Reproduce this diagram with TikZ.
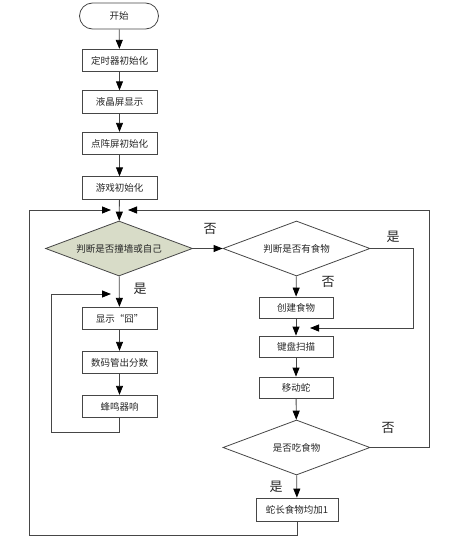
\documentclass[tikz,border=0pt]{standalone}
\usepackage{fontspec}
\newfontfamily\cjk{Noto Sans CJK SC}
\usetikzlibrary{shapes.geometric,arrows.meta}
\definecolor{dfill}{RGB}{216,220,200}
\definecolor{ln}{RGB}{70,70,70}
\begin{document}
\begin{tikzpicture}[x=1pt,y=-1pt,
  every node/.style={font=\cjk\fontsize{9.5}{11}\selectfont, text=black!85},
  stepbox/.style={draw=ln, line width=0.8pt, rectangle, minimum width=75pt, minimum height=22.5pt, inner sep=1pt},
  dec/.style={draw=ln, line width=0.8pt, diamond, aspect=2.67, minimum width=147pt, minimum height=55pt, inner sep=0pt},
  lab/.style={font=\cjk\fontsize{13}{14}\selectfont, text=black!85},
  conn/.style={draw=ln, line width=0.8pt},
  arr/.style={conn, -{Triangle[length=9pt,width=7pt,color=black]}}]
\useasboundingbox (0,0) rectangle (458,538);
\node[draw=ln, line width=0.8pt, rounded corners=13pt, minimum width=79pt, minimum height=26pt] (start) at (119,16) {开始};
\node[stepbox] (b1) at (119.5,60.5) {定时器初始化};
\node[stepbox] (b2) at (119.5,102) {液晶屏显示};
\node[stepbox] (b3) at (119.5,143.5) {点阵屏初始化};
\node[stepbox] (b4) at (119.5,188) {游戏初始化};
\node[dec, fill=dfill] (d1) at (119,248.5) {判断是否撞墙或自己};
\node[dec] (d2) at (296.5,248.5) {判断是否有食物};
\node[stepbox, minimum width=74pt, minimum height=21pt] (c1) at (296,307.5) {创建食物};
\node[stepbox, minimum width=74pt, minimum height=21pt] (c2) at (296,346.5) {键盘扫描};
\node[stepbox, minimum width=74pt, minimum height=21pt] (c3) at (296,387.5) {移动蛇};
\node[dec] (d3) at (296.5,447.5) {是否吃食物};
\node[stepbox, minimum width=82pt, minimum height=23pt] (c4) at (297,509.5) {蛇长食物均加1};
\node[stepbox] (e1) at (119.5,318.5) {显示“囧”};
\node[stepbox] (e2) at (119.5,362.5) {数码管出分数};
\node[stepbox] (e3) at (119.5,406.5) {蜂鸣器响};
\node[lab] (l1) at (210,229) {否};
\node[lab] (l2) at (328,282) {否};
\node[lab] (l3) at (393,237) {是};
\node[lab] (l4) at (388,428) {否};
\node[lab] (l5) at (276,487) {是};
\node[lab] (l6) at (140,289) {是};
\coordinate (jl) at (111,210);
\coordinate (jr) at (128,210);
\coordinate (kl) at (111,294);
\coordinate (kr) at (310,328);
% main chain
\draw[arr] (start) -- (b1);
\draw[arr] (b1) -- (b2);
\draw[arr] (b2) -- (b3);
\draw[arr] (b3) -- (b4);
\draw[arr] (b4) -- (d1);
\draw[arr] (d1) -- (d2);
\draw[arr] (d2) -- (c1);
\draw[arr] (d2.east) -- (413,248.5) |- (kr);
\draw[arr] (c1) -- (c2);
\draw[arr] (c2) -- (c3);
\draw[arr] (c3) -- (d3);
\draw[arr] (d3) -- (c4);
\draw[conn] (d3.east) -- (429,447.5) -- (429,210);
\draw[arr] (429,210) -- (jr);
\draw[conn] (c4.south) -- (297,535) -- (29,535) -- (29,210);
\draw[arr] (29,210) -- (jl);
\draw[arr] (d1) -- (e1);
\draw[arr] (e1) -- (e2);
\draw[arr] (e2) -- (e3);
\draw[conn] (e3.south) -- (119.5,432) -- (51,432) -- (51,294);
\draw[arr] (51,294) -- (kl);
\end{tikzpicture}
\end{document}
